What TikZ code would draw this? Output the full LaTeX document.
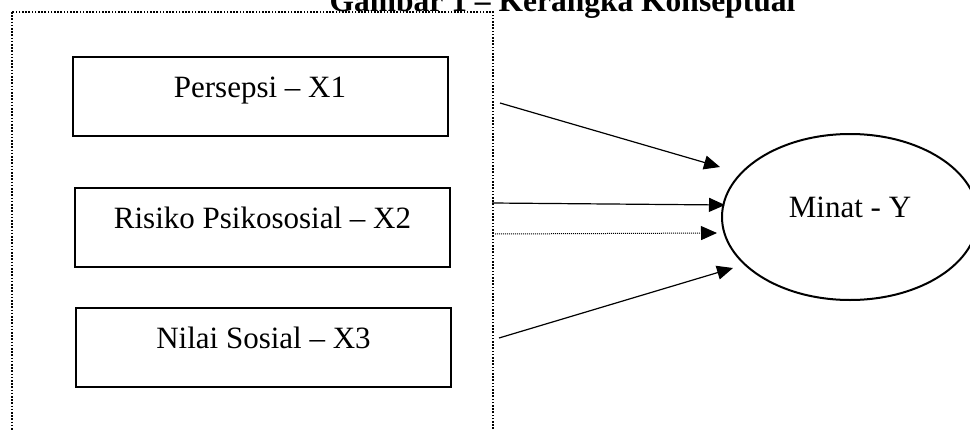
\documentclass[tikz,border=0pt]{standalone}
\usepackage{fontspec}
\setmainfont{Liberation Serif}
\usetikzlibrary{arrows.meta,shapes.geometric}
\tikzset{
  varbox/.style={draw, line width=2pt, rectangle, inner sep=0pt, minimum width=375pt,
    text height=40pt, text depth=39pt, anchor=base, font=\fontsize{31pt}{36pt}\selectfont},
  outcome/.style={draw, line width=2pt, ellipse, inner sep=0pt, minimum width=256pt,
    minimum height=166pt, text height=10pt, text depth=10pt, font=\fontsize{31pt}{36pt}\selectfont},
  conn/.style={line width=1.2pt, -{Triangle[length=16pt,width=14pt]}},
  dotconn/.style={line width=1pt, dash pattern=on 1pt off 1pt, -{Triangle[length=16pt,width=14pt,line width=1pt]}},
  frame/.style={line width=1.6pt, dash pattern=on 1.6pt off 1.6pt},
  titletext/.style={anchor=base, inner sep=0pt, font=\fontsize{31.5pt}{36pt}\selectfont\bfseries}
}
\begin{document}
\begin{tikzpicture}[x=1pt,y=-1pt]
\useasboundingbox (0,0) rectangle (970,431);
\clip (0,0) rectangle (970,431);
\node[titletext] (title) at (562.5,11) {Gambar 1 – Kerangka Konseptual};
\draw[frame] (12,12) rectangle (493,460);
\node[varbox] (x1) at (260,97) {Persepsi – X1};
\node[varbox] (x2) at (262.5,228) {Risiko Psikososial – X2};
\node[varbox] (x3) at (263.5,348) {Nilai Sosial – X3};
\node[outcome] (y) at (850,217) {Minat - Y};
\coordinate (s1) at (500,103);
\coordinate (e1) at (720,167);
\coordinate (s2) at (492,203);
\coordinate (e2) at (725,205);
\coordinate (s3) at (495,234);
\coordinate (e3) at (717,233);
\coordinate (s4) at (499,338);
\coordinate (e4) at (733,268);
\draw[conn] (s1) -- (e1);
\draw[conn] (s2) -- (e2);
\draw[dotconn] (s3) -- (e3);
\draw[conn] (s4) -- (e4);
\end{tikzpicture}
\end{document}
